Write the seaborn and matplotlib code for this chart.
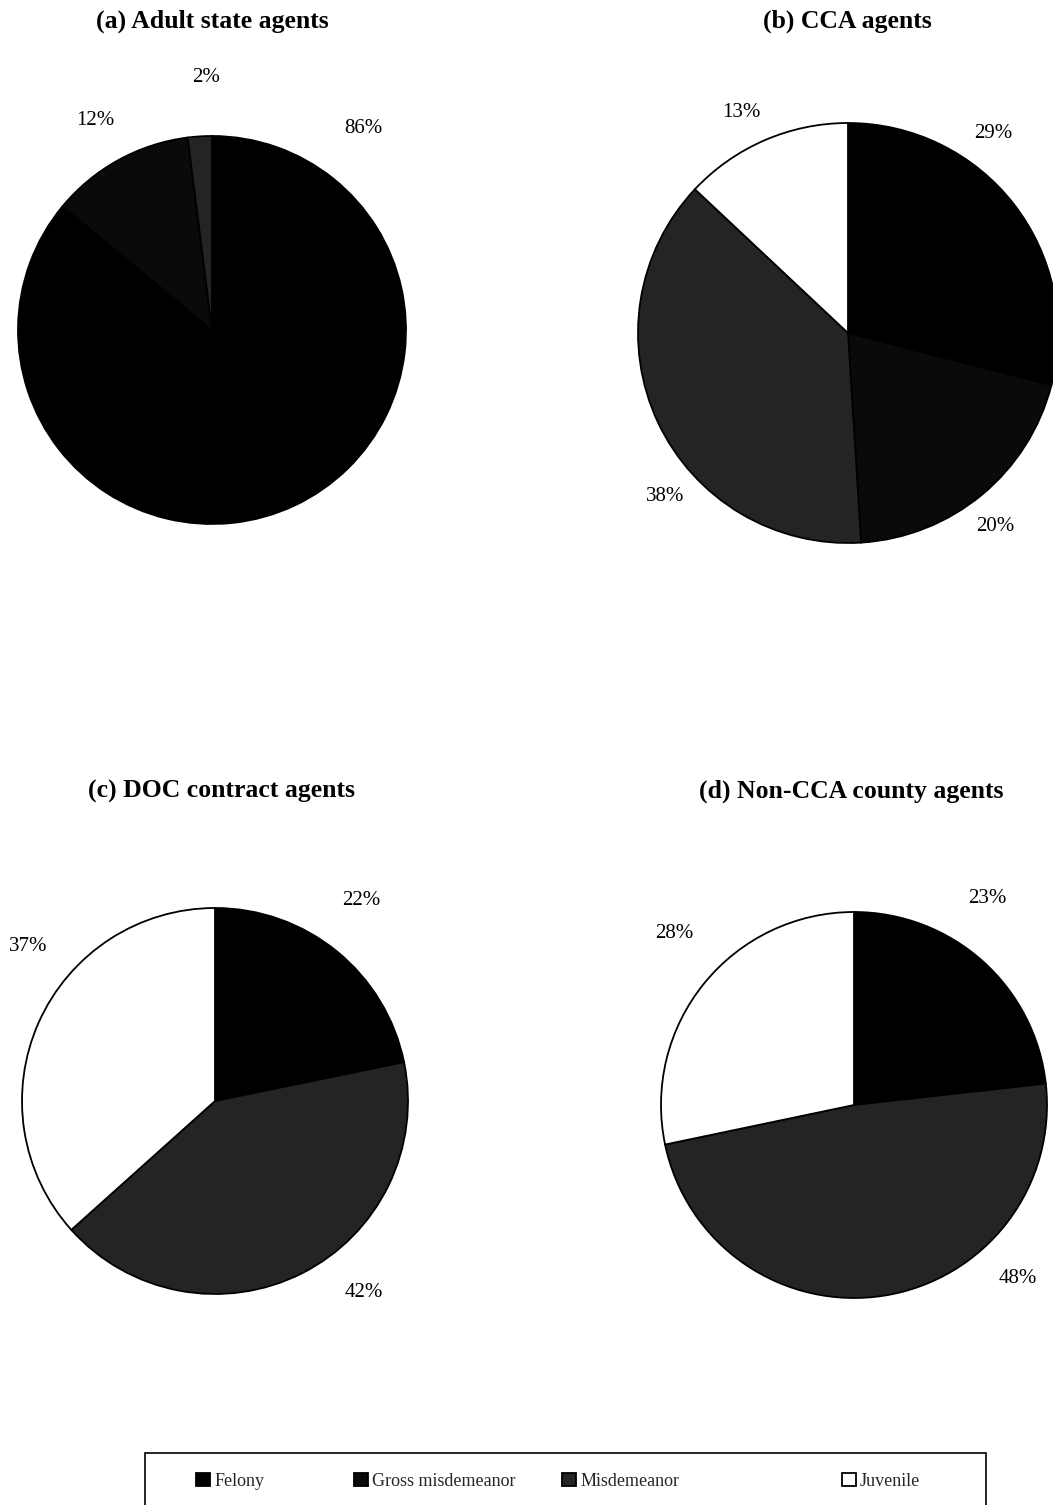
import matplotlib
matplotlib.use("Agg")
import matplotlib.pyplot as plt
from matplotlib.patches import Patch, Rectangle
import seaborn as sns

# share of caseload by offense level, per agent type (percent)
categories = ["Felony", "Gross misdemeanor", "Misdemeanor", "Juvenile"]
adult_state = [86, 12, 2, 0]
cca = [29, 20, 38, 13]
doc_contract = [22, 0, 42, 37]
non_cca_county = [23, 0, 48, 28]

titles = ["(a) Adult state agents", "(b) CCA agents",
          "(c) DOC contract agents", "(d) Non-CCA county agents"]

sns.set_theme(style="white")
plt.rcParams["font.family"] = ["Liberation Serif", "DejaVu Serif"]

colors = ["#000000", "#0a0a0a", "#242424", "#ffffff"]

W, H = 1053, 1505
fig = plt.figure(figsize=(W / 100, H / 100), dpi=100)

# layout in pixels: pie centre, radius, title centre/baseline
panels = [
    dict(data=adult_state, cx=212, cy=330, r=194, tx=212, ty=28,
         lab=[(0.78, 1.04), (-0.60, 1.08), (-0.03, 1.30), None]),
    dict(data=cca, cx=848, cy=333, r=210, tx=847, ty=28,
         lab=[(0.69, 0.95), (0.70, -0.92), (-0.87, -0.78), (-0.51, 1.05)]),
    dict(data=doc_contract, cx=215, cy=1101, r=193, tx=221, ty=798,
         lab=[(0.76, 1.04), None, (0.77, -0.99), (-0.97, 0.80)]),
    dict(data=non_cca_county, cx=854, cy=1105, r=193, tx=851, ty=798,
         lab=[(0.69, 1.07), None, (0.85, -0.90), (-0.93, 0.89)]),
]

for title, p in zip(titles, panels):
    cx, cy, r = p["cx"], p["cy"], p["r"]
    ax = fig.add_axes([(cx - r) / W, 1 - (cy + r) / H, 2 * r / W, 2 * r / H])
    ax.pie(p["data"], colors=colors, startangle=90, counterclock=False,
           wedgeprops=dict(edgecolor="black", linewidth=1.3))
    ax.set_xlim(-1, 1)
    ax.set_ylim(-1, 1)
    ax.axis("off")
    for val, pos in zip(p["data"], p["lab"]):
        if val == 0 or pos is None:
            continue
        ax.text(pos[0], pos[1], f"{val}%", ha="center", va="center",
                fontsize=15, color="black")
    fig.text(p["tx"] / W, 1 - p["ty"] / H, title, ha="center", va="baseline",
             fontsize=18.5, fontweight="bold", color="black")

# legend: one entry per column position, inside a single frame
leg_x = [196, 354, 562, 842]
leg_y = 1481
for name, col, x in zip(categories, colors, leg_x):
    h = Patch(facecolor=col, edgecolor="black", linewidth=1.3, label=name)
    fig.legend(handles=[h], loc="center left",
               bbox_to_anchor=(x / W, 1 - leg_y / H), frameon=False,
               fontsize=13, handlelength=0.75, handleheight=0.75,
               handletextpad=0.25, borderpad=0, borderaxespad=0)
fig.patches.append(Rectangle((145 / W, -0.01), (986 - 145) / W,
                             (1505 - 1453) / H + 0.01,
                             transform=fig.transFigure, fill=False,
                             edgecolor="black", linewidth=1.2))

fig.savefig("out.png", dpi=100, facecolor="white")
plt.close(fig)
